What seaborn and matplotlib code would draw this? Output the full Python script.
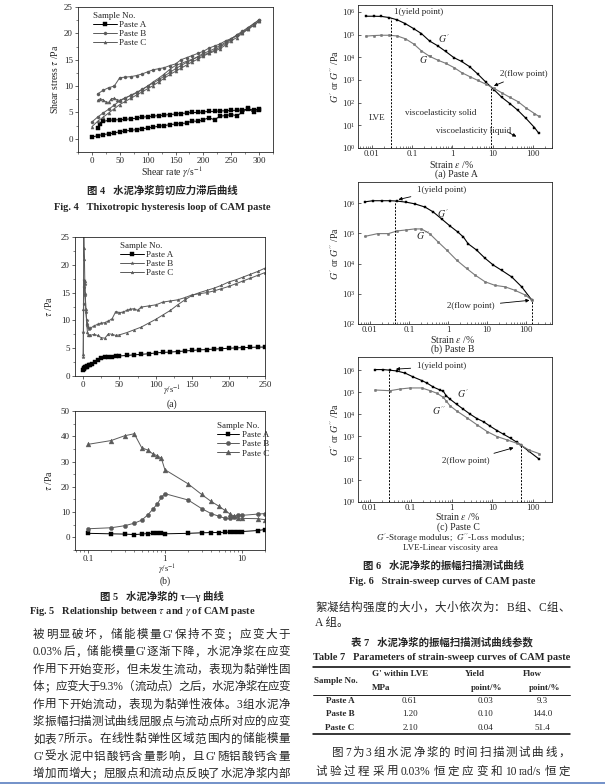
import re
import numpy as np
import matplotlib
matplotlib.use("Agg")
import matplotlib.pyplot as plt
from matplotlib.lines import Line2D
from matplotlib.ticker import MultipleLocator, LogLocator, NullFormatter, FixedLocator, FixedFormatter
import seaborn as sns

# ---------------- data: Fig. 4 hysteresis loops ----------------
f4_a_up_x = [0, 10, 20, 30, 40, 50, 60, 70, 80, 90, 100, 110, 120, 130, 140, 150, 160, 170, 180, 190,
             200, 210, 220, 230, 240, 250, 260, 270, 280, 290, 300]
f4_a_up_y = [0.3, 0.6, 0.8, 0.95, 1.1, 1.35, 1.5, 1.6, 1.75, 1.9, 2.05, 2.2, 2.4, 2.5, 2.7, 2.8, 2.9, 3.0, 3.4, 3.3,
             3.6, 4.0, 3.6, 4.3, 4.4, 4.6, 4.4, 5.0, 5.8, 5.0, 5.5]
f4_a_dn_x = [10, 15, 20, 30, 40, 50, 60, 70, 80, 90, 100, 110, 120, 130, 140, 150, 160, 170, 180, 190,
             200, 210, 220, 230, 240, 250, 260, 270, 280, 290, 300]
f4_a_dn_y = [2.1, 2.8, 3.3, 3.5, 3.6, 3.6, 3.7, 3.8, 3.9, 4.1, 4.2, 4.3, 4.4, 4.5, 4.6, 4.7, 4.8, 4.9, 5.0, 5.0,
             5.1, 5.2, 5.2, 5.3, 5.3, 5.4, 5.4, 5.5, 5.6, 5.5, 5.6]
f4_b_up_x = f4_a_up_x
f4_b_up_y = [3.2, 4.1, 4.9, 5.6, 6.4, 7.2, 7.7, 8.3, 8.8, 9.4, 10.0, 10.6, 11.2, 11.9, 12.6, 13.3, 13.9, 14.5, 15.0, 15.6,
             16.2, 16.6, 17.1, 17.7, 18.3, 19.0, 19.7, 20.4, 21.1, 21.8, 22.5]
f4_b_dn_x = [10, 20, 30, 40, 50, 60, 70, 80, 90, 100, 110, 120, 130, 140, 150, 160, 170, 180, 190,
             200, 210, 220, 230, 240, 250, 260, 270, 280, 290, 300]
f4_b_dn_y = [8.5, 9.2, 9.7, 10.0, 11.6, 11.7, 11.8, 12.0, 12.3, 12.7, 13.1, 13.3, 13.5, 13.9, 14.2, 15.0, 15.4, 15.8, 16.2,
             16.6, 17.2, 17.6, 18.0, 18.6, 19.0, 19.6, 20.2, 21.0, 21.8, 22.6]
f4_c_up_x = f4_a_up_x
f4_c_up_y = [2.3, 3.3, 4.1, 4.9, 5.7, 6.5, 7.1, 7.7, 8.3, 8.9, 9.5, 10.1, 10.8, 11.5, 12.2, 12.8, 13.4, 14.0, 14.6, 15.1,
             15.7, 16.2, 16.6, 17.1, 17.8, 18.6, 19.2, 20.0, 20.8, 21.5, 22.3]
f4_c_dn_x = [10, 15, 20, 25, 30, 35, 40, 45, 50, 60, 70, 80, 90, 100, 110, 120, 130, 140, 150, 160, 170, 180, 190,
             200, 210, 220, 230, 240, 250, 260, 270, 280, 290, 300]
f4_c_dn_y = [7.3, 7.6, 7.4, 7.0, 6.9, 7.6, 7.7, 7.4, 7.3, 7.8, 8.2, 8.7, 9.3, 10.0, 10.8, 11.5, 12.3, 13.2, 13.9, 14.3, 14.7,
             15.1, 15.5, 15.9, 16.3, 16.8, 17.4, 18.1, 18.9, 19.6, 20.1, 20.8, 21.5, 22.3]

# ---------------- data: Fig. 5(a) ----------------
f5a_a_x = [0.3, 1, 2, 3, 4, 5, 6, 8, 10, 13, 16, 20, 25, 30, 35, 40, 45, 50, 60, 70, 80, 90, 100, 110, 120,
           130, 140, 150, 160, 170, 180, 190, 200, 210, 220, 230, 240, 250]
f5a_a_y = [1.1, 1.3, 1.5, 1.6, 1.6, 1.7, 1.8, 1.9, 2.0, 2.2, 2.5, 2.9, 3.2, 3.35, 3.45, 3.5, 3.55, 3.6, 3.7, 3.8, 3.9,
           4.0, 4.15, 4.25, 4.3, 4.4, 4.5, 4.6, 4.7, 4.75, 4.85, 4.9, 5.0, 5.05, 5.1, 5.15, 5.2, 5.2]
f5a_b_x = [0.3, 0.6, 1, 1.5, 2, 2.5, 3, 4, 5, 6, 7, 8, 10, 15, 20, 25, 30, 35, 40, 45, 50, 55, 60, 65, 70, 75, 80,
           90, 100, 110, 120, 130, 140, 150, 160, 170, 180, 190, 200, 210, 220, 230, 240, 250]
f5a_b_y = [3.5, 8.0, 13.0, 16.0, 17.2, 16.5, 14.5, 11.5, 10.0, 9.2, 8.8, 8.5, 8.6, 9.0, 9.3, 9.5, 9.6, 9.9, 10.3, 11.6,
           11.4, 11.5, 11.8, 12.0, 12.1, 11.8, 12.4, 12.6, 12.8, 13.3, 13.5, 13.7, 14.1, 14.6, 14.8, 15.0, 15.3, 15.7,
           16.1, 16.6, 17.1, 17.6, 18.1, 18.6]
f5a_c_x = [0.3, 0.6, 1, 1.5, 2, 2.5, 3, 4, 5, 6, 7, 8, 10, 15, 20, 25, 30, 35, 40, 45, 50, 60, 70, 80, 90, 100,
           110, 120, 130, 140, 150, 160, 170, 180, 190, 200, 210, 220, 230, 240, 250]
f5a_c_y = [4.0, 12.0, 27.0, 23.0, 21.0, 17.0, 15.0, 12.0, 9.5, 8.0, 7.4, 7.3, 7.3, 7.5, 7.3, 6.9, 6.8, 7.6, 7.5, 7.3,
           7.4, 7.8, 8.3, 8.8, 9.5, 10.2, 11.0, 11.8, 12.8, 13.7, 14.5, 15.0, 15.4, 15.8, 16.3, 16.9, 17.3, 17.8,
           18.3, 18.8, 19.4]

# ---------------- data: Fig. 5(b) ----------------
f5b_x = [0.1, 0.2, 0.3, 0.4, 0.5, 0.6, 0.7, 0.8, 0.9, 1, 2, 3, 4, 5, 6, 7, 8, 9, 10, 16, 20]
f5b_a_y = [1.6, 1.4, 1.3, 1.1, 1.3, 1.5, 1.6, 1.7, 1.6, 1.4, 1.6, 1.8, 1.9, 1.9, 2.0, 2.1, 2.2, 2.2, 2.3, 2.7, 3.1]
f5b_b_y = [3.4, 3.8, 4.6, 5.6, 6.8, 8.9, 11.2, 13.3, 15.8, 17.3, 14.8, 11.4, 9.4, 8.4, 7.6, 7.5, 8.2, 9.0, 8.7, 9.2, 9.4]
f5b_c_y = [36.8, 38.3, 40.2, 41.0, 35.5, 34.5, 33.0, 32.3, 31.3, 26.8, 21.2, 17.0, 14.2, 12.4, 10.7, 9.3, 8.3, 7.6,
           7.5, 7.4, 7.0]

# ---------------- data: Fig. 6 strain sweeps ----------------
f6a_x = [0.007, 0.011, 0.017, 0.027, 0.043, 0.068, 0.11, 0.17, 0.27, 0.43, 0.68, 1.1, 1.7, 2.7, 4.3, 6.8,
         11, 17, 27, 43, 68, 110, 140]
f6a_gp = [6.4e5, 6.4e5, 6.3e5, 5.6e5, 4.4e5, 3.0e5, 1.8e5, 1.1e5, 5.2e4, 3.2e4, 1.8e4, 9.5e3, 6.5e3, 3.8e3, 1.8e3,
          8e2, 3.6e2, 1.7e2, 90, 45, 20, 8, 4.5]
f6a_gpp = [8.5e4, 9e4, 9.3e4, 9.3e4, 8.6e4, 6.5e4, 3.8e4, 1.9e4, 1.1e4, 7.5e3, 5.4e3, 3.5e3, 2.1e3, 1.4e3, 9.5e2,
           6.5e2, 4.2e2, 2.7e2, 1.7e2, 1.1e2, 58, 33, 25]
f6b_gp_x = [0.0074, 0.012, 0.020, 0.033, 0.05, 0.087, 0.14, 0.26, 0.42, 0.69, 1.1, 1.8, 2.5, 3.3, 5.4, 8.9,
            14.5, 23.6, 43, 77, 140]
f6b_gp = [1.1e6, 1.2e6, 1.2e6, 1.2e6, 1.17e6, 1.07e6, 9.5e5, 7.4e5, 5.1e5, 3e5, 1.8e5, 1.1e5, 7.5e4, 4.5e4, 2.8e4,
          1.5e4, 8.9e3, 6e3, 3.6e3, 1.7e3, 6.2e2]
f6b_gpp_x = [0.0074, 0.016, 0.030, 0.050, 0.087, 0.14, 0.21, 0.34, 0.56, 0.93, 1.67, 3.0, 4.9, 8.9, 16, 29, 52, 95, 140]
f6b_gpp = [7.9e4, 9.8e4, 9.8e4, 1.2e5, 1.3e5, 1.4e5, 1.4e5, 9.8e4, 5.2e4, 2.8e4, 1.3e4, 6.9e3, 4.2e3, 2.5e3, 1.9e3,
           1.7e3, 1.3e3, 9.1e2, 6.2e2]
f6c_gp_x = [0.013, 0.021, 0.031, 0.045, 0.073, 0.116, 0.186, 0.25, 0.36, 0.52, 0.63, 0.74, 0.92, 1.34, 1.96, 2.9,
            4.2, 6.1, 8.9, 13, 19, 28, 40, 51, 80, 140]
f6c_gp = [1.07e6, 1.07e6, 1.0e6, 9.3e5, 7.4e5, 4.9e5, 3.4e5, 2.6e5, 1.7e5, 1.26e5, 1.1e5, 6.9e4, 4.8e4, 2.8e4, 1.66e4,
          9.8e3, 6.3e3, 4.5e3, 2.8e3, 1.8e3, 1.2e3, 800, 520, 380, 200, 90]
f6c_gpp_x = [0.0133, 0.031, 0.055, 0.096, 0.186, 0.30, 0.44, 0.63, 0.74, 0.92, 1.34, 2.4, 4.2, 7.5, 13, 23, 40, 51,
             80, 140]
f6c_gpp = [1.26e5, 1.17e5, 1.4e5, 1.56e5, 1.56e5, 1.17e5, 8.9e4, 5.8e4, 4e4, 2.4e4, 1.4e4, 6.8e3, 3.3e3, 1.6e3, 960,
           670, 470, 380, 230, 160]
yield_strain = [0.03, 0.045, 0.03]
flow_strain = [9.3, 144.0, 51.4]

# ---------------- table 7 ----------------
t7_samples = ["Paste A", "Paste B", "Paste C"]
t7_g = ["0.61", "1.20", "2.10"]
t7_yield = ["0.03", "0.10", "0.04"]
t7_flow = ["9.3", "144.0", "51.4"]

body_left = [
    "被明显破坏，储能模量 G'保持不变；应变大于",
    "0.03%后，储能模量 G'逐渐下降，水泥净浆在应变",
    "作用下开始变形，但未发生流动，表现为黏弹性固",
    "体；应变大于 9.3%（流动点）之后，水泥净浆在应变",
    "作用下开始流动，表现为黏弹性液体。3 组水泥净",
    "浆振幅扫描测试曲线屈服点与流动点所对应的应变",
    "如表 7 所示。在线性黏弹性区域范围内的储能模量",
    "G'受水泥中铝酸钙含量影响，且 G'随铝酸钙含量",
    "增加而增大；屈服点和流动点反映了水泥净浆内部",
]

sns.set_style("ticks")
plt.rcParams['font.family'] = ['Liberation Serif', 'Noto Sans CJK SC']
plt.rcParams['mathtext.fontset'] = 'stix'
plt.rcParams['axes.linewidth'] = 0.6
plt.rcParams['xtick.major.width'] = 0.5
plt.rcParams['ytick.major.width'] = 0.5
plt.rcParams['xtick.minor.width'] = 0.4
plt.rcParams['ytick.minor.width'] = 0.4
plt.rcParams['xtick.major.size'] = 2.2
plt.rcParams['ytick.major.size'] = 2.2
plt.rcParams['xtick.minor.size'] = 1.2
plt.rcParams['ytick.minor.size'] = 1.2
plt.rcParams['xtick.major.pad'] = 1.2
plt.rcParams['ytick.major.pad'] = 1.5

W, H = 605, 784
fig = plt.figure(figsize=(W / 100, H / 100), dpi=100)
fig.patch.set_facecolor("white")


def rect(l, t, r, b):
    return [l / W, 1 - b / H, (r - l) / W, (b - t) / H]


def ftext(x, y, s, size=7, ha="center", **kw):
    return fig.text(x / W, 1 - y / H, s, fontsize=size, ha=ha, va="center", **kw)


def series(ax, x, y, color, marker, ms=2.5, label=None, lw=0.7):
    sns.lineplot(x=x, y=y, ax=ax, color=color, marker=marker, markersize=ms, linewidth=lw,
                 markeredgewidth=0.3, markeredgecolor=color, sort=False, estimator=None, label=label)


def style_axes(ax, direction="out"):
    for s in ax.spines.values():
        s.set_visible(True)
        s.set_linewidth(0.6)
    ax.tick_params(which="both", labelsize=6.5, direction=direction)
    ax.grid(False)
    ax.set_xlabel("")


GREY = "#5a5a5a"
LGREY = "#7a7a7a"

# ---------------- Fig. 4 ----------------
ax4 = fig.add_axes(rect(78, 7, 273, 152))
series(ax4, f4_a_up_x, f4_a_up_y, "black", "s", label="Paste A")
series(ax4, f4_a_dn_x, f4_a_dn_y, "black", "s")
series(ax4, f4_b_up_x, f4_b_up_y, GREY, "o", ms=2.2, label="Paste B")
series(ax4, f4_b_dn_x, f4_b_dn_y, GREY, "o", ms=2.2)
series(ax4, f4_c_up_x, f4_c_up_y, GREY, "^", ms=2.2, label="Paste C")
series(ax4, f4_c_dn_x, f4_c_dn_y, GREY, "^", ms=2.2)
ax4.set_xlim(-25, 325)
ax4.set_ylim(-2.5, 25)
ax4.xaxis.set_major_locator(MultipleLocator(50))
ax4.xaxis.set_minor_locator(MultipleLocator(25))
ax4.yaxis.set_major_locator(MultipleLocator(5))
ax4.yaxis.set_minor_locator(MultipleLocator(2.5))
style_axes(ax4)
ax4.set_ylabel(r"Shear stress $\tau$ /Pa", fontsize=7, labelpad=3)
lg = ax4.legend(title="Sample No.", loc="upper left", bbox_to_anchor=(0.05, 1.0), frameon=False,
                fontsize=6.5, title_fontsize=6.5, handlelength=2.6, labelspacing=0.05, borderaxespad=0.2,
                handletextpad=0.3)
lg._legend_box.align = "left"
ftext(172, 172, r"Shear rate $\gamma$/s$^{-1}$", size=7)
ftext(162, 191, "图 4   水泥净浆剪切应力滞后曲线", size=7.5, weight="bold")
ftext(162, 208, "Fig. 4   Thixotropic hysteresis loop of CAM paste", size=7.5, weight="bold")

# ---------------- Fig. 5(a) ----------------
ax5a = fig.add_axes(rect(75, 237, 265, 376))
series(ax5a, f5a_a_x, f5a_a_y, "black", "s", ms=2.2, label="Paste A")
series(ax5a, f5a_b_x, f5a_b_y, GREY, "*", ms=2.5, label="Paste B")
series(ax5a, f5a_c_x, f5a_c_y, GREY, "^", ms=2.0, label="Paste C")
ax5a.set_xlim(-11, 250)
ax5a.set_ylim(0, 25)
ax5a.xaxis.set_major_locator(MultipleLocator(50))
ax5a.xaxis.set_minor_locator(MultipleLocator(25))
ax5a.yaxis.set_major_locator(MultipleLocator(5))
ax5a.yaxis.set_minor_locator(MultipleLocator(2.5))
style_axes(ax5a)
ax5a.set_ylabel(r"$\tau$ /Pa", fontsize=7, labelpad=5)
lg = ax5a.legend(title="Sample No.", loc="upper left", bbox_to_anchor=(0.21, 1.0), frameon=False,
                 fontsize=6.5, title_fontsize=6.5, handlelength=2.6, labelspacing=0.05, borderaxespad=0.2,
                 handletextpad=0.3)
lg._legend_box.align = "left"
ftext(172, 391, r"$\gamma$/s$^{-1}$", size=6.3)
ftext(172, 404, "(a)", size=7)

# ---------------- Fig. 5(b) ----------------
ax5b = fig.add_axes(rect(75, 411, 265, 550))
series(ax5b, f5b_x, f5b_a_y, "black", "s", ms=3, label="Paste A")
series(ax5b, f5b_x, f5b_b_y, GREY, "o", ms=3, label="Paste B")
series(ax5b, f5b_x, f5b_c_y, GREY, "^", ms=3.5, label="Paste C")
ax5b.set_xscale("log")
ax5b.set_xlim(0.068, 20)
ax5b.set_ylim(-5, 50)
ax5b.xaxis.set_major_locator(FixedLocator([0.1, 1, 10]))
ax5b.xaxis.set_major_formatter(FixedFormatter(["0.1", "1", "10"]))
ax5b.xaxis.set_minor_locator(LogLocator(base=10, subs=np.arange(2, 10)))
ax5b.xaxis.set_minor_formatter(NullFormatter())
ax5b.yaxis.set_major_locator(MultipleLocator(10))
ax5b.yaxis.set_minor_locator(MultipleLocator(5))
style_axes(ax5b)
ax5b.set_ylabel(r"$\tau$ /Pa", fontsize=7, labelpad=5)
lg = ax5b.legend(title="Sample No.", loc="upper left", bbox_to_anchor=(0.72, 0.96), frameon=False,
                 fontsize=6.5, title_fontsize=6.5, handlelength=2.4, labelspacing=0.1, borderaxespad=0.2,
                 handletextpad=0.3)
lg._legend_box.align = "left"
ftext(167, 570, r"$\gamma$/s$^{-1}$", size=6.3)
ftext(165, 581, "(b)", size=7)
ftext(162, 597, "图 5   水泥净浆的 τ—γ 曲线", size=7.5, weight="bold")
ftext(142, 612, r"Fig. 5   Relationship between $\tau$ and $\gamma$ of CAM paste", size=7.5, weight="bold")


# ---------------- Fig. 6 ----------------
def strain_axes(box, gx, gp, gpx, gpp, ylim, xlim, yield_x, flow_x, yticks):
    ax = fig.add_axes(rect(*box))
    series(ax, gx, gp, "black", "s", ms=2.0, lw=0.8)
    series(ax, gpx, gpp, LGREY, "o", ms=1.8, lw=0.8)
    ax.set_xscale("log")
    ax.set_yscale("log")
    ax.set_xlim(*xlim)
    ax.set_ylim(*ylim)
    ax.xaxis.set_major_locator(FixedLocator([0.01, 0.1, 1, 10, 100]))
    ax.xaxis.set_major_formatter(FixedFormatter(["0.01", "0.1", "1", "10", "100"]))
    ax.xaxis.set_minor_locator(LogLocator(base=10, subs=np.arange(2, 10)))
    ax.xaxis.set_minor_formatter(NullFormatter())
    ax.yaxis.set_major_locator(FixedLocator(yticks))
    ax.yaxis.set_minor_locator(LogLocator(base=10, subs=np.arange(2, 10)))
    ax.yaxis.set_minor_formatter(NullFormatter())
    style_axes(ax, direction="in")
    ax.tick_params(axis="y", which="minor", length=0)
    ax.tick_params(labelsize=6.3, pad=1.5)
    ax.set_ylabel(r"$G'$ or $G''$ /Pa", fontsize=7, labelpad=1)
    # guide lines at yield / flow points
    ytop = 10 ** np.interp(np.log10(yield_x), np.log10(gx), np.log10(gp))
    ax.vlines(yield_x, ylim[0], ytop, colors="black", linestyles=(0, (2, 1.5)), linewidth=0.7)
    ftop = 10 ** np.interp(np.log10(flow_x), np.log10(gpx), np.log10(gpp))
    ax.vlines(flow_x, ylim[0], ftop, colors="black", linestyles=(0, (2, 1.5)), linewidth=0.7)
    return ax, ftop


arrow = dict(arrowstyle="-|>", color="black", lw=0.6, mutation_scale=5)

ax6a, top_a = strain_axes((358, 5, 552, 148), f6a_x, f6a_gp, f6a_x, f6a_gpp, (1, 2e6), (0.0045, 300),
                          yield_strain[0], flow_strain[0], [1, 10, 100, 1e3, 1e4, 1e5, 1e6])
ax6a.text(0.036, 1.0e6, "1(yield point)", fontsize=6.5, va="center")
ax6a.text(0.44, 6.6e4, r"$G'$", fontsize=7, va="center")
ax6a.text(0.15, 7.9e3, r"$G''$", fontsize=7, va="center")
ax6a.annotate("2(flow point)", xy=(flow_strain[0], top_a), xytext=(15, 1.9e3), fontsize=6.5, va="center",
              arrowprops=arrow)
ax6a.text(0.0085, 20, "LVE", fontsize=6.5, va="center")
ax6a.text(0.066, 36, "viscoelasticity solid", fontsize=6.5, va="center")
ax6a.text(0.40, 5.4, "viscoelasticity liquid", fontsize=6.5, va="center")
ax6a.annotate("", xy=(45, 2.8), xytext=(22, 5.4), arrowprops=arrow)
ftext(452, 164, r"Strain $\varepsilon$ /%", size=7)
ftext(456, 174, "(a) Paste A", size=7)

ax6b, top_b = strain_axes((358, 182, 552, 324), f6b_gp_x, f6b_gp, f6b_gpp_x, f6b_gpp, (100, 5e6), (0.005, 460),
                          yield_strain[1], flow_strain[1], [1e2, 1e3, 1e4, 1e5, 1e6])
ax6b.annotate("1(yield point)", xy=(0.046, 1.25e6), xytext=(0.16, 2.8e6), fontsize=6.5, va="center",
              arrowprops=arrow)
ax6b.text(0.51, 4.5e5, r"$G'$", fontsize=7, va="center")
ax6b.text(0.15, 8.5e4, r"$G''$", fontsize=7, va="center")
ax6b.annotate("2(flow point)", xy=(flow_strain[1], top_b), xytext=(0.93, 390), fontsize=6.5, va="center",
              arrowprops=arrow)
ftext(453, 339, r"Strain $\varepsilon$ /%", size=7)
ftext(453, 349, "(b) Paste B", size=7)

ax6c, top_c = strain_axes((358, 357, 552, 502), f6c_gp_x, f6c_gp, f6c_gpp_x, f6c_gpp, (1, 4e6), (0.0051, 290),
                          yield_strain[2], flow_strain[2], [1, 10, 100, 1e3, 1e4, 1e5, 1e6])
ax6c.annotate("1(yield point)", xy=(0.037, 1.1e6), xytext=(0.14, 1.5e6), fontsize=6.5, va="center",
              arrowprops=arrow)
ax6c.text(1.34, 8.9e4, r"$G'$", fontsize=7, va="center")
ax6c.text(0.33, 1.5e4, r"$G''$", fontsize=7, va="center")
ax6c.annotate("2(flow point)", xy=(flow_strain[2] * 0.75, top_c * 0.85), xytext=(0.58, 71), fontsize=6.5,
              va="center", arrowprops=arrow)
ftext(458, 517, r"Strain $\varepsilon$ /%", size=7)
ftext(458, 527, "(c) Paste C", size=7)
ftext(450, 538, r"$G'$-Storage modulus;  $G''$-Loss modulus;", size=6.5)
ftext(450, 548, "LVE-Linear viscosity area", size=6.5)
ftext(443, 566, "图 6   水泥净浆的振幅扫描测试曲线", size=7.5, weight="bold")
ftext(442, 581, "Fig. 6   Strain-sweep curves of CAM paste", size=7.5, weight="bold")

# ---------------- body text ----------------
renderer = fig.canvas.get_renderer()


def justify(s, x0, x1, y, size=8.3):
    toks = re.findall(r"[\x21-\x7e]+|\S", s)
    texts = [fig.text(0, 1 - y / H, t, fontsize=size, va="center", ha="left") for t in toks]
    widths = [t.get_window_extent(renderer).width for t in texts]
    gap = (x1 - x0 - sum(widths)) / (len(toks) - 1)
    x = x0
    for t, w in zip(texts, widths):
        t.set_x(x / W)
        x += w + gap


for i, line in enumerate(body_left):
    justify(line, 33, 290, 635 + i * 17.4)

justify("絮凝结构强度的大小，大小依次为：B 组、C 组、", 315, 570, 608)
ftext(315, 623, "A 组。", size=8.3, ha="left")
ftext(442, 642, "表 7   水泥净浆的振幅扫描测试曲线参数", size=7.5, weight="bold")
ftext(442, 657, "Table 7   Parameters of strain-sweep curves of CAM paste", size=7.5, weight="bold")
justify("图 7 为 3 组水泥净浆的时间扫描测试曲线，", 332, 570, 753)
justify("试验过程采用 0.03%恒定应变和 10 rad/s 恒定", 315, 570, 772)

# ---------------- table ----------------
for yy, lw in [(667, 1.1), (695, 0.6), (734, 1.1)]:
    fig.add_artist(Line2D([313 / W, 570 / W], [1 - yy / H, 1 - yy / H], color="black", lw=lw))
ftext(336, 681, "Sample No.", size=6.5, weight="bold")
ftext(372, 674, "G' within LVE", size=6.5, ha="left", weight="bold")
ftext(372, 688, "MPa", size=6.5, ha="left", weight="bold")
ftext(465, 674, "Yield", size=6.5, ha="left", weight="bold")
ftext(471, 688, "point/%", size=6.5, ha="left", weight="bold")
ftext(523, 674, "Flow", size=6.5, ha="left", weight="bold")
ftext(529, 688, "point/%", size=6.5, ha="left", weight="bold")
for i in range(3):
    yy = 701 + i * 13.5
    ftext(340, yy, t7_samples[i], size=6.5, weight="bold")
    ftext(410, yy, t7_g[i], size=6.5)
    ftext(486, yy, t7_yield[i], size=6.5)
    ftext(542, yy, t7_flow[i], size=6.5)

fig.add_artist(Line2D([0, 1], [0.6 / H, 0.6 / H], color="#5b7fc0", lw=1.2))

fig.savefig("out.png", dpi=100, facecolor="white")
